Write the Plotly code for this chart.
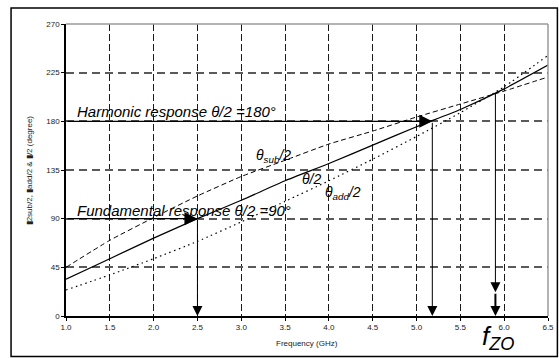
import plotly.graph_objects as go

# Half electrical length versus frequency
freq_ghz = [1.0, 1.5, 2.0, 2.5, 3.0, 3.5, 4.0, 4.5, 5.0, 5.5, 6.0, 6.5]
theta_half = [34, 53, 72, 90, 107, 125, 141, 158, 175, 191, 210, 232]
theta_sub_half = [45, 70, 91, 111, 129, 144, 159, 171, 184, 196, 208, 221]
theta_add_half = [24, 38, 53, 69, 87, 106, 125, 145, 166, 188, 212, 241]

x_tick_vals = [1.0, 1.5, 2.0, 2.5, 3.0, 3.5, 4.0, 4.5, 5.0, 5.5, 6.0, 6.5]
x_tick_text = ["1.0", "1.5", "2.0", "2.5", "3.0", "3.5", "4.0", "4.5", "5.0", "5.5", "6.0", "6.5"]
y_tick_vals = [0, 45, 90, 135, 180, 225, 270]

# Marked operating points
f_fund, fund_level = 2.5, 90
f_harm, harm_level = 5.18, 180
f_zo, zo_level, zo_mark = 5.9, 207, 22

FONT = "Liberation Sans, Arial, sans-serif"

fig = go.Figure()
fig.add_trace(go.Scatter(x=freq_ghz, y=theta_sub_half, mode="lines",
                         line=dict(color="black", width=1, dash="5px,3px", shape="spline", smoothing=0.5),
                         showlegend=False))
fig.add_trace(go.Scatter(x=freq_ghz, y=theta_add_half, mode="lines",
                         line=dict(color="black", width=1.2, dash="1.5px,3.5px", shape="spline", smoothing=0.5),
                         showlegend=False))
fig.add_trace(go.Scatter(x=freq_ghz, y=theta_half, mode="lines",
                         line=dict(color="black", width=1.2, shape="spline", smoothing=0.5),
                         showlegend=False))


def arrow(x, y, ax, ay, width=1.0, size=2.0):
    return dict(x=x, y=y, ax=ax, ay=ay, xref="x", yref="y", axref="x", ayref="y",
                text="", showarrow=True, arrowhead=2, arrowsize=size,
                arrowwidth=width, arrowcolor="black")


def label(x, y, text, size=15, anchor="left"):
    return dict(x=x, y=y, xref="x", yref="y", text=text, showarrow=False,
                xanchor=anchor, yanchor="middle",
                font=dict(family=FONT, size=size, color="black"))


annotations = [
    # fundamental: 90 deg level -> frequency
    arrow(f_fund, fund_level, 1.0, fund_level, width=1.3),
    arrow(f_fund, 0, f_fund, fund_level, width=1.0),
    # harmonic: 180 deg level -> frequency
    arrow(f_harm, harm_level, 1.0, harm_level, width=1.3),
    arrow(f_harm, 0, f_harm, harm_level, width=1.0),
    # crossing frequency
    arrow(f_zo, zo_mark, f_zo, zo_level, width=1.0),
    arrow(f_zo, 0, f_zo, zo_mark, width=2.0, size=1.0),
    label(1.1, 189, "<i>Harmonic response θ/2 =180°</i>"),
    label(1.1, 98, "<i>Fundamental response θ/2 =90°</i>"),
    label(3.15, 148, "<i>θ<sub>sub</sub>/2</i>", size=14),
    label(3.67, 127, "<i>θ/2</i>", size=14),
    label(3.93, 114, "<i>θ<sub>add</sub>/2</i>", size=14),
    # crossing frequency name, below the axis
    dict(x=0.858, y=-0.072, xref="paper", yref="paper",
         text="<i>f</i><sub><i>ZO</i></sub>", showarrow=False,
         xanchor="left", yanchor="middle",
         font=dict(family=FONT, size=26, color="black")),
    # axis titles
    dict(x=0.5, y=-0.095, xref="paper", yref="paper", text="Frequency (GHz)",
         showarrow=False, xanchor="center", yanchor="middle",
         font=dict(family=FONT, size=8, color="#222")),
    dict(x=-0.076, y=0.5, xref="paper", yref="paper", textangle=-90,
         text="▮2sub/2, ▮add/2 & ▮/2 (degree)",
         showarrow=False, xanchor="center", yanchor="middle",
         font=dict(family=FONT, size=8, color="#222")),
]

shapes = [
    # plot area top and right borders
    dict(type="line", xref="paper", yref="paper", x0=0, x1=1, y0=1, y1=1,
         line=dict(color="#9a9a9a", width=1.5)),
    dict(type="line", xref="paper", yref="paper", x0=1, x1=1, y0=0, y1=1,
         line=dict(color="#9a9a9a", width=1.5)),
    # outer frame
    dict(type="rect", xref="paper", yref="paper", x0=-0.114, x1=1.0195, y0=-0.139, y1=1.055,
         line=dict(color="black", width=1.5), layer="below"),
]

fig.update_layout(
    width=559, height=358,
    margin=dict(l=66, r=11, t=24, b=42, autoexpand=False),
    paper_bgcolor="white", plot_bgcolor="white",
    font=dict(family=FONT, size=8, color="#222"),
    showlegend=False,
    annotations=annotations,
    shapes=shapes,
    xaxis=dict(range=[1.0, 6.5], tickvals=x_tick_vals, ticktext=x_tick_text,
               showgrid=True, gridcolor="#1a1a1a", gridwidth=1, griddash="7px,3px",
               showline=True, linecolor="black", linewidth=1.5,
               ticks="outside", ticklen=3, tickcolor="black", zeroline=False,
               tickfont=dict(family=FONT, size=8, color="#222")),
    yaxis=dict(range=[0, 270], tickvals=y_tick_vals,
               showgrid=True, gridcolor="#5a5a5a", gridwidth=1.5, griddash="8px,5px",
               showline=True, linecolor="black", linewidth=1.5,
               ticks="outside", ticklen=3, tickcolor="black", zeroline=False,
               tickfont=dict(family=FONT, size=8, color="#222")),
)

fig.write_html("out.html")
